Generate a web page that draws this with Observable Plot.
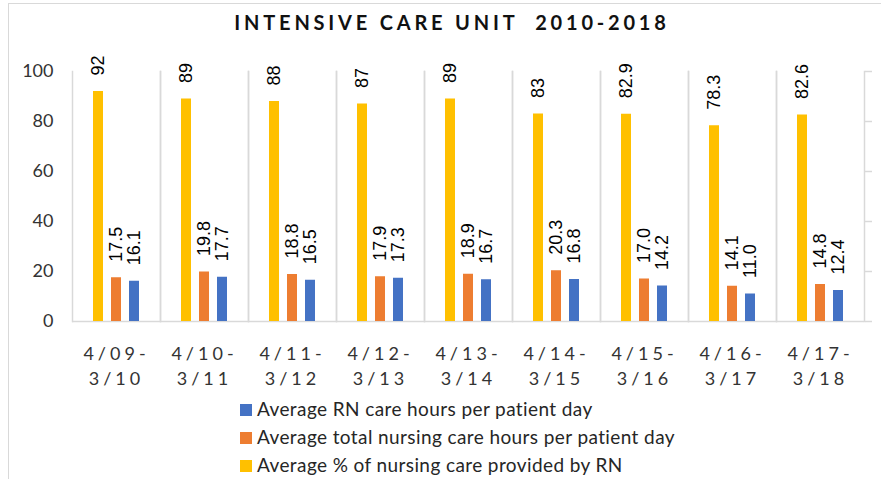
<!DOCTYPE html>
<html>
<head>
<meta charset="utf-8">
<script src="https://cdn.jsdelivr.net/npm/d3@7"></script>
<script src="https://cdn.jsdelivr.net/npm/@observablehq/plot@0.6"></script>
<style>
  html, body { margin: 0; padding: 0; background: #fff; }
  #wrap { position: relative; width: 881px; height: 479px; overflow: hidden; background: #fff; }
  #border { position: absolute; left: 8px; top: 3px; width: 900px; height: 500px;
            border-left: 1px solid #d9d9d9; border-top: 1px solid #d9d9d9; pointer-events: none; }
  #title { position: relative; width: 904px; height: 45px; line-height: 45px; text-align: center;
           font-family: Lato, sans-serif; font-weight: 700; font-size: 20px; letter-spacing: 3.8px; color: #111; }
  #chart svg { display: block; }
  #legend { padding-left: 240px; padding-top: 5px; font-family: Lato, sans-serif; font-size: 19px; letter-spacing: 0.4px; color: #262626; }
  .row { height: 28px; line-height: 28px; white-space: nowrap; }
  .sw { display: inline-block; width: 12px; height: 12px; margin-right: 5px; vertical-align: middle; position: relative; top: -1px; }
</style>
</head>
<body>
<div id="wrap">
  <div id="border"></div>
  <div id="title">INTENSIVE CARE UNIT&nbsp; 2010-2018</div>
  <div id="chart"></div>
  <div id="legend"></div>
</div>
<script>
// ---- data ----
const categories = ["4/09-3/10", "4/10-3/11", "4/11-3/12", "4/12-3/13", "4/13-3/14", "4/14-3/15", "4/15-3/16", "4/16-3/17", "4/17-3/18"];
const tickLine1 = ["4/09-", "4/10-", "4/11-", "4/12-", "4/13-", "4/14-", "4/15-", "4/16-", "4/17-"];
const tickLine2 = ["3/10", "3/11", "3/12", "3/13", "3/14", "3/15", "3/16", "3/17", "3/18"];
const seriesNames = [
  "Average RN care hours per patient day",
  "Average total nursing care hours per patient day",
  "Average % of nursing care provided by RN"
];
const seriesColors = ["#4472C4", "#ED7D31", "#FFC000"];
const rnHours    = [16.1, 17.7, 16.5, 17.3, 16.7, 16.8, 14.2, 11.0, 12.4];
const totalHours = [17.5, 19.8, 18.8, 17.9, 18.9, 20.3, 17.0, 14.1, 14.8];
const pctRN      = [92, 89, 88, 87, 89, 83, 82.9, 78.3, 82.6];
const yTicks = [0, 20, 40, 60, 80, 100];

// ---- table ----
const data = [];
categories.forEach((c, i) => {
  data.push({cat: c, series: seriesNames[2], value: pctRN[i], label: String(pctRN[i])});
  data.push({cat: c, series: seriesNames[1], value: totalHours[i], label: totalHours[i].toFixed(1)});
  data.push({cat: c, series: seriesNames[0], value: rnHours[i], label: rnHours[i].toFixed(1)});
});
const tickData = categories.map((c, i) => ({cat: c, label: tickLine1[i] + "\n" + tickLine2[i]}));

const chart = Plot.plot({
  width: 881,
  height: 345,
  marginLeft: 70,
  marginRight: 16,
  marginTop: 26,
  marginBottom: 69,
  style: {fontFamily: "Lato, sans-serif", fontSize: "18px", color: "#333", background: "#fff", overflow: "visible"},
  fx: {domain: categories, padding: 0, axis: null},
  x: {domain: [seriesNames[2], seriesNames[1], seriesNames[0]], paddingInner: 0.426, paddingOuter: 1.126, axis: null},
  y: {domain: [0, 100], axis: null},
  color: {domain: seriesNames, range: seriesColors},
  marks: [
    Plot.frame({anchor: "left", stroke: "#d9d9d9", strokeWidth: 1.5}),
    Plot.frame({anchor: "right", stroke: "#d9d9d9", strokeWidth: 1.5}),
    Plot.ruleY([0], {stroke: "#d9d9d9", strokeWidth: 1.5}),
    Plot.barY(data, {fx: "cat", x: "series", y: "value", fill: "series"}),
    Plot.text(data, {fx: "cat", x: "series", y: "value", text: "label", rotate: -90,
      textAnchor: "start", lineAnchor: "middle", dy: -16,
      fontFamily: "'Liberation Sans', Arial, sans-serif", fontSize: 18, fill: "#000"}),
    Plot.axisY({anchor: "left", label: null, ticks: yTicks, tickSize: 0, tickPadding: 19, color: "#333", fontSize: 18}),
    Plot.axisY({anchor: "right", label: null, ticks: yTicks, tickSize: 7, tickFormat: () => "", color: "#d9d9d9", strokeWidth: 1.5}),
    Plot.text(tickData, {fx: "cat", text: "label", frameAnchor: "bottom", lineAnchor: "top",
      dy: 21, lineHeight: 1.39, fontSize: 18, fill: "#333"})
  ]
});
document.getElementById("chart").appendChild(chart);
d3.select(chart).selectAll("tspan").each(function() {
  this.parentNode.style.letterSpacing = "4px";
});

// ---- legend ----
const legend = d3.select("#legend");
seriesNames.forEach((name, i) => {
  const row = legend.append("div").attr("class", "row");
  row.append("span").attr("class", "sw").style("background", seriesColors[i]);
  row.append("span").text(name);
});
</script>
</body>
</html>
